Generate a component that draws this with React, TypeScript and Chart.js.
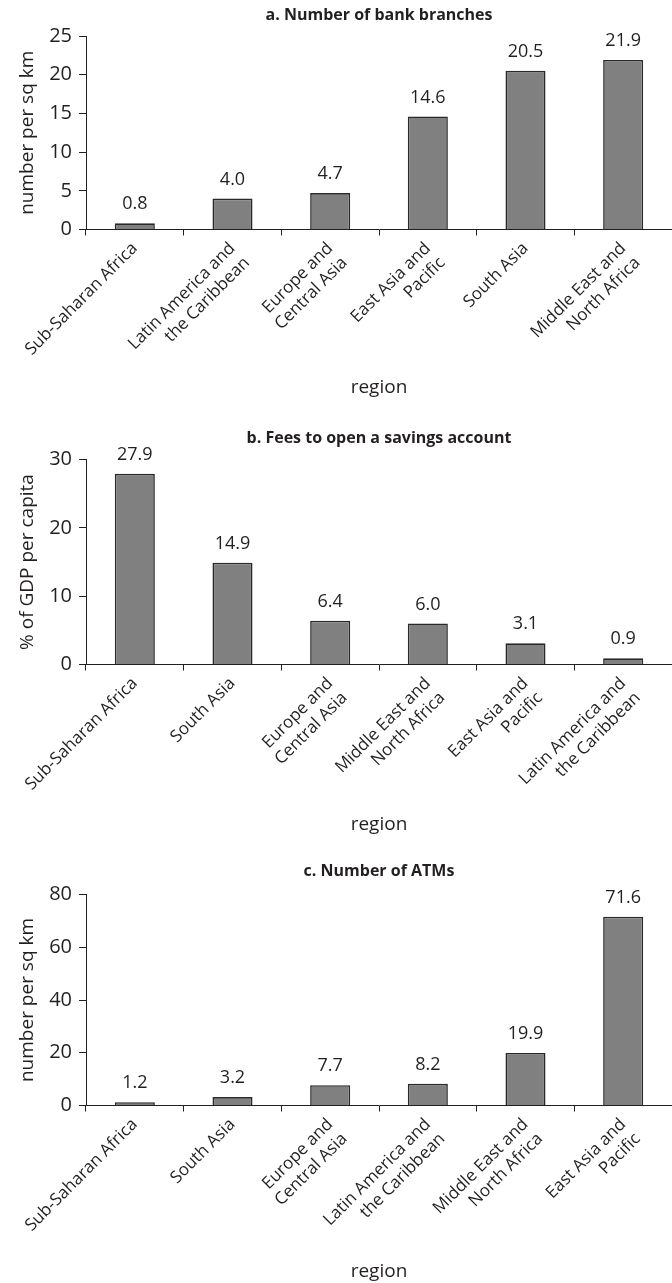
import React, { useEffect, useRef } from "react";
import { Chart, registerables } from "chart.js";

Chart.register(...registerables);

const FONT = "'Open Sans', sans-serif";
const INK = "#231f20";

// ---- Panel a: Number of bank branches ----
const titleA = "a. Number of bank branches";
const categoriesA: (string | string[])[] = [
  "Sub-Saharan Africa",
  ["Latin America and", "the Caribbean"],
  ["Europe and", "Central Asia"],
  ["East Asia and", "Pacific"],
  "South Asia",
  ["Middle East and", "North Africa"],
];
const valuesA = [0.8, 4.0, 4.7, 14.6, 20.5, 21.9];
const yTicksA = [0, 5, 10, 15, 20, 25];
const yTitleA = "number per sq km";

// ---- Panel b: Fees to open a savings account ----
const titleB = "b. Fees to open a savings account";
const categoriesB: (string | string[])[] = [
  "Sub-Saharan Africa",
  "South Asia",
  ["Europe and", "Central Asia"],
  ["Middle East and", "North Africa"],
  ["East Asia and", "Pacific"],
  ["Latin America and", "the Caribbean"],
];
const valuesB = [27.9, 14.9, 6.4, 6.0, 3.1, 0.9];
const yTicksB = [0, 10, 20, 30];
const yTitleB = "% of GDP per capita";

// ---- Panel c: Number of ATMs ----
const titleC = "c. Number of ATMs";
const categoriesC: (string | string[])[] = [
  "Sub-Saharan Africa",
  "South Asia",
  ["Europe and", "Central Asia"],
  ["Latin America and", "the Caribbean"],
  ["Middle East and", "North Africa"],
  ["East Asia and", "Pacific"],
];
const valuesC = [1.2, 3.2, 7.7, 8.2, 19.9, 71.6];
const yTicksC = [0, 20, 40, 60, 80];
const yTitleC = "number per sq km";

const xTitle = "region";

const valueLabels = {
  id: "valueLabels",
  afterDatasetsDraw(chart: any) {
    const ctx = chart.ctx;
    const meta = chart.getDatasetMeta(0);
    const data = chart.data.datasets[0].data as number[];
    ctx.save();
    ctx.font = `18px ${FONT}`;
    ctx.fillStyle = INK;
    ctx.textAlign = "center";
    ctx.textBaseline = "middle";
    meta.data.forEach((el: any, i: number) => {
      ctx.fillText(data[i].toFixed(1), el.x, el.y - 19);
    });
    ctx.restore();
  },
};

type Layout = {
  height: number;
  titlePadTop: number;
  titlePadBottom: number;
  xHeight: number;
  xTitlePadBottom: number;
};

function BarPanel(props: {
  title: string;
  labels: (string | string[])[];
  values: number[];
  yTicks: number[];
  yTitle: string;
  layout: Layout;
}) {
  const ref = useRef<HTMLCanvasElement | null>(null);
  const { title, labels, values, yTicks, yTitle, layout } = props;

  useEffect(() => {
    if (!ref.current) return;
    const chart = new Chart(ref.current, {
      type: "bar",
      data: {
        labels,
        datasets: [
          {
            data: values,
            backgroundColor: "#808080",
            borderColor: "#2a2829",
            borderWidth: 1.6,
            categoryPercentage: 1,
            barPercentage: 0.41,
          },
        ],
      },
      options: {
        responsive: false,
        animation: false,
        layout: { padding: 0 },
        plugins: {
          legend: { display: false },
          tooltip: { enabled: false },
          title: {
            display: true,
            text: title,
            fullSize: false,
            color: INK,
            font: { family: FONT, size: 16, weight: "bold" },
            padding: { top: layout.titlePadTop, bottom: layout.titlePadBottom },
          },
        },
        scales: {
          x: {
            type: "category",
            offset: true,
            grid: {
              display: true,
              drawOnChartArea: false,
              drawTicks: true,
              tickLength: 6,
              offset: true,
              color: INK,
            },
            border: { display: true, color: INK, width: 1 },
            ticks: {
              autoSkip: false,
              minRotation: 45,
              maxRotation: 45,
              padding: 3,
              color: INK,
              font: { family: FONT, size: 17 },
            },
            title: {
              display: true,
              text: xTitle,
              color: INK,
              font: { family: FONT, size: 19 },
              padding: { top: 0, bottom: layout.xTitlePadBottom },
            },
            afterFit: (s: any) => {
              s.height = layout.xHeight;
            },
          },
          y: {
            type: "linear",
            min: yTicks[0],
            max: yTicks[yTicks.length - 1],
            afterBuildTicks: (s: any) => {
              s.ticks = yTicks.map((v) => ({ value: v }));
            },
            grid: {
              display: true,
              drawOnChartArea: false,
              drawTicks: true,
              tickLength: 7,
              color: INK,
            },
            border: { display: true, color: INK, width: 1 },
            ticks: {
              padding: 7,
              color: INK,
              font: { family: FONT, size: 20 },
            },
            title: {
              display: true,
              text: yTitle,
              color: INK,
              font: { family: FONT, size: 19 },
              padding: { top: 16.6, bottom: 0 },
            },
            afterFit: (s: any) => {
              s.width = 86;
            },
          },
        },
      },
      plugins: [valueLabels],
    } as any);
    return () => chart.destroy();
  }, []);

  return (
    <canvas
      ref={ref}
      width={672}
      height={layout.height}
      style={{ display: "block", width: 672, height: layout.height }}
    />
  );
}

export default function App() {
  return (
    <div
      style={{
        position: "absolute",
        left: 0,
        top: 0,
        width: 672,
        height: 1283,
        background: "#ffffff",
      }}
    >
      <BarPanel
        title={titleA}
        labels={categoriesA}
        values={valuesA}
        yTicks={yTicksA}
        yTitle={yTitleA}
        layout={{ height: 400, titlePadTop: 5.4, titlePadBottom: 11.4, xHeight: 170.5, xTitlePadBottom: 1.3 }}
      />
      <BarPanel
        title={titleB}
        labels={categoriesB}
        values={valuesB}
        yTicks={yTicksB}
        yTitle={yTitleB}
        layout={{ height: 440, titlePadTop: 28.4, titlePadBottom: 11.9, xHeight: 175.5, xTitlePadBottom: 3.6 }}
      />
      <BarPanel
        title={titleC}
        labels={categoriesC}
        values={valuesC}
        yTicks={yTicksC}
        yTitle={yTitleC}
        layout={{ height: 443, titlePadTop: 21.4, titlePadBottom: 13.9, xHeight: 177.5, xTitlePadBottom: 0 }}
      />
    </div>
  );
}
